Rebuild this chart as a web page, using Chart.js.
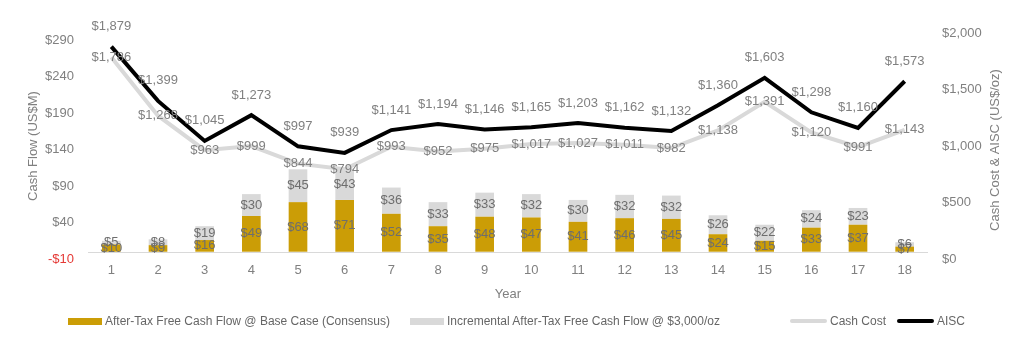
<!DOCTYPE html>
<html>
<head>
<meta charset="utf-8">
<script src="https://cdn.jsdelivr.net/npm/chart.js@4.4.1/dist/chart.umd.min.js"></script>
<style>
  html, body { margin: 0; padding: 0; background: #fff; }
  #wrap { position: relative; width: 1022px; height: 359px; }
  #legend { position: absolute; left: 0; top: 313px; width: 1022px; height: 16px;
            font: 12px "Liberation Sans", Arial, sans-serif; color: #666; }
  #legend .item { position: absolute; top: 0; height: 16px; display: flex; align-items: center; white-space: nowrap; }
  #legend .sw { display: inline-block; margin-right: 3px; }
</style>
</head>
<body>
<div id="wrap">
  <canvas id="chart" width="1022" height="359"></canvas>
  <div id="legend"></div>
</div>
<script>
// données
const years = ['1','2','3','4','5','6','7','8','9','10','11','12','13','14','15','16','17','18'];
const baseCaseFcf = [10, 9, 16, 49, 68, 71, 52, 35, 48, 47, 41, 46, 45, 24, 15, 33, 37, 7];
const incrementalFcf = [5, 8, 19, 30, 45, 43, 36, 33, 33, 32, 30, 32, 32, 26, 22, 24, 23, 6];
const cashCost = [1786, 1268, 963, 999, 844, 794, 993, 952, 975, 1017, 1027, 1011, 982, 1138, 1391, 1120, 991, 1143];
const aisc = [1879, 1399, 1045, 1273, 997, 939, 1141, 1194, 1146, 1165, 1203, 1162, 1132, 1360, 1603, 1298, 1160, 1573];
const leftTicks = [-10, 40, 90, 140, 190, 240, 290];
const rightTicks = [0, 500, 1000, 1500, 2000];

const GOLD = '#CB9D06';
const LIGHT = '#D9D9D9';
const TXT = '#808080';
const FONT = '"Liberation Sans", Arial, sans-serif';

Chart.defaults.font.family = FONT;
Chart.defaults.font.size = 13;
Chart.defaults.color = TXT;

const money = v => (v < 0 ? '-$' : '$') + Math.abs(v).toLocaleString('en-US');

// ligne du zéro (axe des catégories d'Excel)
const zeroLine = {
  id: 'zeroLine',
  beforeDatasetsDraw(chart) {
    const { ctx, chartArea } = chart;
    const y = Math.round(chart.scales.y.getPixelForValue(0)) + 0.5;
    ctx.save();
    ctx.strokeStyle = LIGHT;
    ctx.lineWidth = 1;
    ctx.beginPath();
    ctx.moveTo(chartArea.left, y);
    ctx.lineTo(chartArea.right, y);
    ctx.stroke();
    ctx.restore();
  }
};

// titres verticaux des deux axes (lecture de bas en haut)
const axisTitles = {
  id: 'axisTitles',
  afterDraw(chart) {
    const { ctx, chartArea } = chart;
    const midY = (chartArea.top + chartArea.bottom) / 2;
    const draw = (text, x, y) => {
      ctx.save();
      ctx.translate(x, y);
      ctx.rotate(-Math.PI / 2);
      ctx.font = '13px ' + FONT;
      ctx.fillStyle = TXT;
      ctx.textAlign = 'center';
      ctx.textBaseline = 'middle';
      ctx.fillText(text, 0, 0);
      ctx.restore();
    };
    draw('Cash Flow (US$M)', 33, midY);
    draw('Cash Cost & AISC (US$/oz)', 995, midY + 4);
  }
};

// étiquettes de données
const dataLabels = {
  id: 'dataLabels',
  afterDatasetsDraw(chart) {
    const { ctx } = chart;
    ctx.save();
    ctx.font = '13px ' + FONT;
    ctx.textAlign = 'center';
    ctx.textBaseline = 'middle';
    chart.data.datasets.forEach((ds, i) => {
      const meta = chart.getDatasetMeta(i);
      meta.data.forEach((el, j) => {
        const v = ds.data[j];
        let y;
        if (ds.type === 'line') {
          y = ds.labelPos === 'above' ? el.y - 20 : el.y;
          ctx.fillStyle = TXT;
        } else {
          y = (el.y + el.base) / 2;
          ctx.fillStyle = '#6E6E6E';
        }
        ctx.fillText(money(v), el.x, y);
      });
    });
    ctx.restore();
  }
};

const datasets = [
  { type: 'line', label: 'AISC', data: aisc, yAxisID: 'y1', borderColor: '#000', backgroundColor: '#000',
    borderWidth: 4, pointRadius: 0, tension: 0, order: 0, labelPos: 'above' },
  { type: 'line', label: 'Cash Cost', data: cashCost, yAxisID: 'y1', borderColor: LIGHT, backgroundColor: LIGHT,
    borderWidth: 4, pointRadius: 0, tension: 0, order: 1, labelPos: 'center' },
  { type: 'bar', label: 'After-Tax Free Cash Flow @ Base Case (Consensus)', data: baseCaseFcf, yAxisID: 'y',
    backgroundColor: GOLD, stack: 'fcf', order: 2, barPercentage: 0.4, categoryPercentage: 1 },
  { type: 'bar', label: 'Incremental After-Tax Free Cash Flow @ $3,000/oz', data: incrementalFcf, yAxisID: 'y',
    backgroundColor: LIGHT, stack: 'fcf', order: 3, barPercentage: 0.4, categoryPercentage: 1 }
];

const chart = new Chart(document.getElementById('chart'), {
  data: { labels: years, datasets },
  options: {
    responsive: false,
    animation: false,
    layout: { padding: { top: 33, left: 0, right: 0, bottom: 50 } },
    plugins: { legend: { display: false }, tooltip: { enabled: false } },
    scales: {
      x: {
        stacked: true,
        grid: { display: false, drawTicks: false },
        border: { display: false },
        ticks: { padding: 4, color: TXT },
        title: { display: true, text: 'Year', color: TXT, font: { size: 13 }, padding: { top: 0, bottom: 7 } },
        afterFit: s => { s.height = 50; }
      },
      y: {
        position: 'left',
        stacked: true,
        min: -10,
        max: 300,
        grid: { display: false, drawTicks: false },
        border: { display: false },
        afterBuildTicks: s => { s.ticks = leftTicks.map(v => ({ value: v })); },
        ticks: {
          padding: 14,
          callback: v => money(v),
          color: c => (c.tick && c.tick.value < 0 ? '#E53935' : TXT)
        },
        afterFit: s => { s.width = 88; }
      },
      y1: {
        position: 'right',
        min: 0,
        max: 2000,
        grid: { display: false, drawTicks: false },
        border: { display: false },
        afterBuildTicks: s => { s.ticks = rightTicks.map(v => ({ value: v })); },
        ticks: { padding: 14, callback: v => money(v), color: TXT },
        afterFit: s => { s.width = 94; }
      }
    }
  },
  plugins: [zeroLine, dataLabels, axisTitles]
});

// légende HTML (positions des entrées comme dans l'original)
const legendOrder = [2, 3, 1, 0];
const legendX = [68, 410, 790, 897];
const legendEl = document.getElementById('legend');
legendOrder.forEach((idx, k) => {
  const ds = datasets[idx];
  const item = document.createElement('div');
  item.className = 'item';
  item.style.left = legendX[k] + 'px';
  const sw = document.createElement('span');
  sw.className = 'sw';
  if (ds.type === 'bar') {
    sw.style.width = '34px'; sw.style.height = '7px'; sw.style.background = ds.backgroundColor;
  } else {
    sw.style.width = '37px'; sw.style.height = '4px'; sw.style.background = ds.borderColor;
    sw.style.borderRadius = '2px';
  }
  item.appendChild(sw);
  item.appendChild(document.createTextNode(ds.label));
  legendEl.appendChild(item);
});
</script>
</body>
</html>
